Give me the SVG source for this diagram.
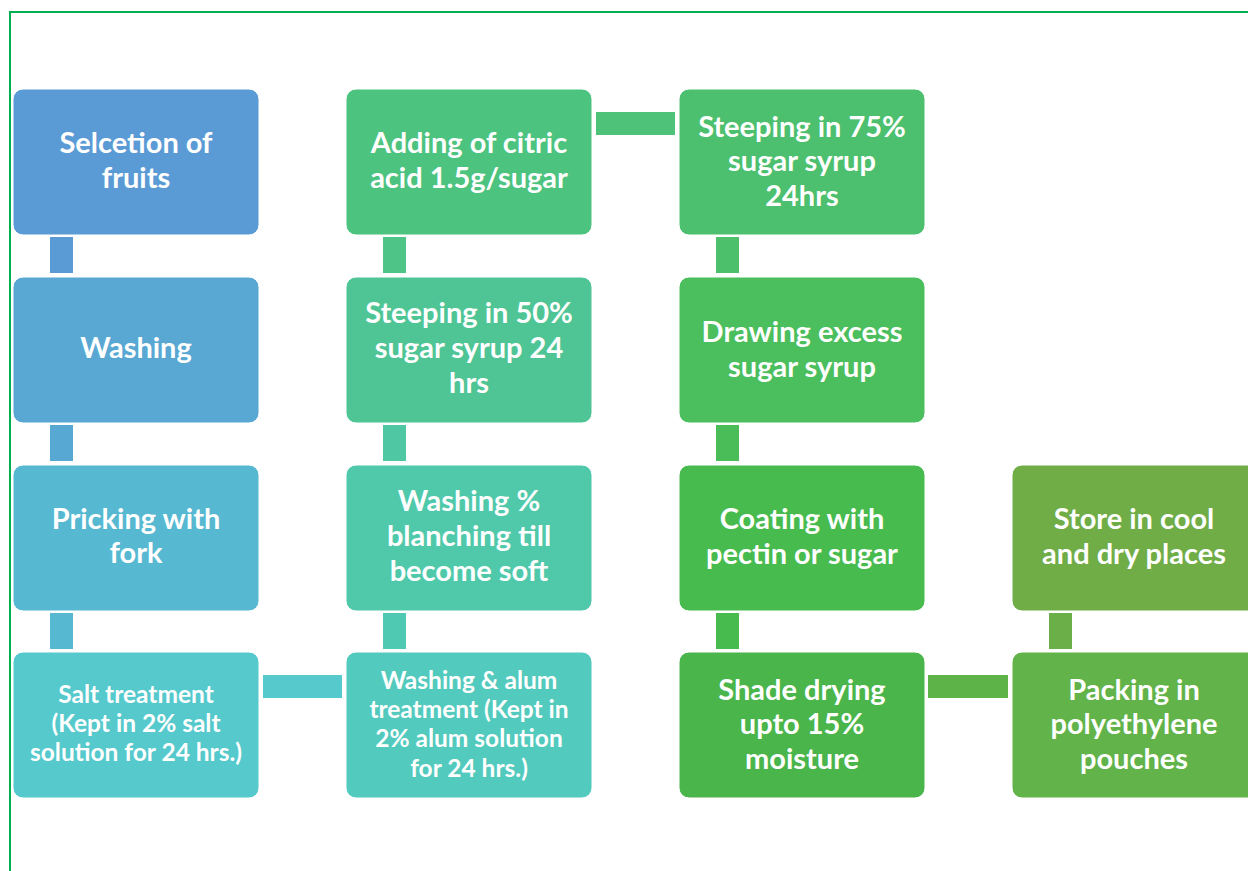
<svg xmlns="http://www.w3.org/2000/svg" width="1248" height="871" viewBox="0 0 1248 871">
<style>
.b{stroke:#ffffff;stroke-width:1}
.t{font-family:Lato,"Liberation Sans",sans-serif;font-weight:bold;font-size:29px;fill:#ffffff;text-anchor:middle}
.s{font-size:24.5px}
</style>
<rect width="1248" height="871" fill="#ffffff"/>
<path d="M10,871 V12 H1248" fill="none" stroke="#00b050" stroke-width="2"/>
<g id="connectors">
<rect x="50" y="237" width="23" height="36" fill="#5b9bd5"/>
<rect x="50" y="425" width="23" height="36" fill="#57a8d3"/>
<rect x="50" y="613" width="23" height="36" fill="#56b9d1"/>
<rect x="263" y="675" width="79" height="23" fill="#55c9cc"/>
<rect x="383" y="613" width="23" height="36" fill="#50c9b3"/>
<rect x="383" y="425" width="23" height="36" fill="#50c7a3"/>
<rect x="383" y="237" width="23" height="36" fill="#4ec487"/>
<rect x="596" y="112" width="79" height="23" fill="#4dc278"/>
<rect x="716" y="237" width="23" height="36" fill="#4cc06a"/>
<rect x="716" y="425" width="23" height="36" fill="#4abd59"/>
<rect x="716" y="613" width="23" height="36" fill="#48bb4e"/>
<rect x="928" y="675" width="80" height="23" fill="#5db348"/>
<rect x="1049" y="613" width="23" height="36" fill="#6aaf47"/>
</g>
<g id="n1"><rect class="b" x="13" y="89" width="246" height="146" rx="10" fill="#5b9bd5"/><text class="t" x="136" y="153">Selcetion of</text><text class="t" x="136" y="188">fruits</text></g>
<g id="n2"><rect class="b" x="13" y="277" width="246" height="146" rx="10" fill="#58a8d3"/><text class="t" x="136" y="358">Washing</text></g>
<g id="n3"><rect class="b" x="13" y="465" width="246" height="146" rx="10" fill="#56b8d1"/><text class="t" x="136" y="529">Pricking with</text><text class="t" x="136" y="563">fork</text></g>
<g id="n4"><rect class="b" x="13" y="652" width="246" height="146" rx="10" fill="#55c9cc"/><text class="t s" x="136" y="703">Salt treatment</text><text class="t s" x="136" y="732">(Kept in 2% salt</text><text class="t s" x="136" y="761">solution for 24 hrs.)</text></g>
<g id="n5"><rect class="b" x="346" y="652" width="246" height="146" rx="10" fill="#52cabd"/><text class="t s" x="469" y="689">Washing &amp; alum</text><text class="t s" x="469" y="718">treatment (Kept in</text><text class="t s" x="469" y="747">2% alum solution</text><text class="t s" x="469" y="777">for 24 hrs.)</text></g>
<g id="n6"><rect class="b" x="346" y="465" width="246" height="146" rx="10" fill="#50c9ab"/><text class="t" x="469" y="511">Washing %</text><text class="t" x="469" y="546">blanching till</text><text class="t" x="469" y="581">become soft</text></g>
<g id="n7"><rect class="b" x="346" y="277" width="246" height="146" rx="10" fill="#4fc596"/><text class="t" x="469" y="323">Steeping in 50%</text><text class="t" x="469" y="358">sugar syrup 24</text><text class="t" x="469" y="393">hrs</text></g>
<g id="n8"><rect class="b" x="346" y="89" width="246" height="146" rx="10" fill="#4dc380"/><text class="t" x="469" y="153">Adding of citric</text><text class="t" x="469" y="188">acid 1.5g/sugar</text></g>
<g id="n9"><rect class="b" x="679" y="89" width="246" height="146" rx="10" fill="#4cc06e"/><text class="t" x="802" y="137">Steeping in 75%</text><text class="t" x="802" y="171">sugar syrup</text><text class="t" x="802" y="206">24hrs</text></g>
<g id="n10"><rect class="b" x="679" y="277" width="246" height="146" rx="10" fill="#4bbe5d"/><text class="t" x="802" y="342">Drawing excess</text><text class="t" x="802" y="377">sugar syrup</text></g>
<g id="n11"><rect class="b" x="679" y="465" width="246" height="146" rx="10" fill="#48bb4f"/><text class="t" x="802" y="529">Coating with</text><text class="t" x="802" y="564">pectin or sugar</text></g>
<g id="n12"><rect class="b" x="679" y="652" width="246" height="146" rx="10" fill="#4ab54a"/><text class="t" x="802" y="700">Shade drying</text><text class="t" x="802" y="734">upto 15%</text><text class="t" x="802" y="769">moisture</text></g>
<g id="n13"><rect class="b" x="1012" y="652" width="246" height="146" rx="10" fill="#62b349"/><text class="t" x="1134" y="700">Packing in</text><text class="t" x="1134" y="734">polyethylene</text><text class="t" x="1134" y="769">pouches</text></g>
<g id="n14"><rect class="b" x="1012" y="465" width="246" height="146" rx="10" fill="#70ad47"/><text class="t" x="1134" y="529">Store in cool</text><text class="t" x="1134" y="564">and dry places</text></g>
</svg>
